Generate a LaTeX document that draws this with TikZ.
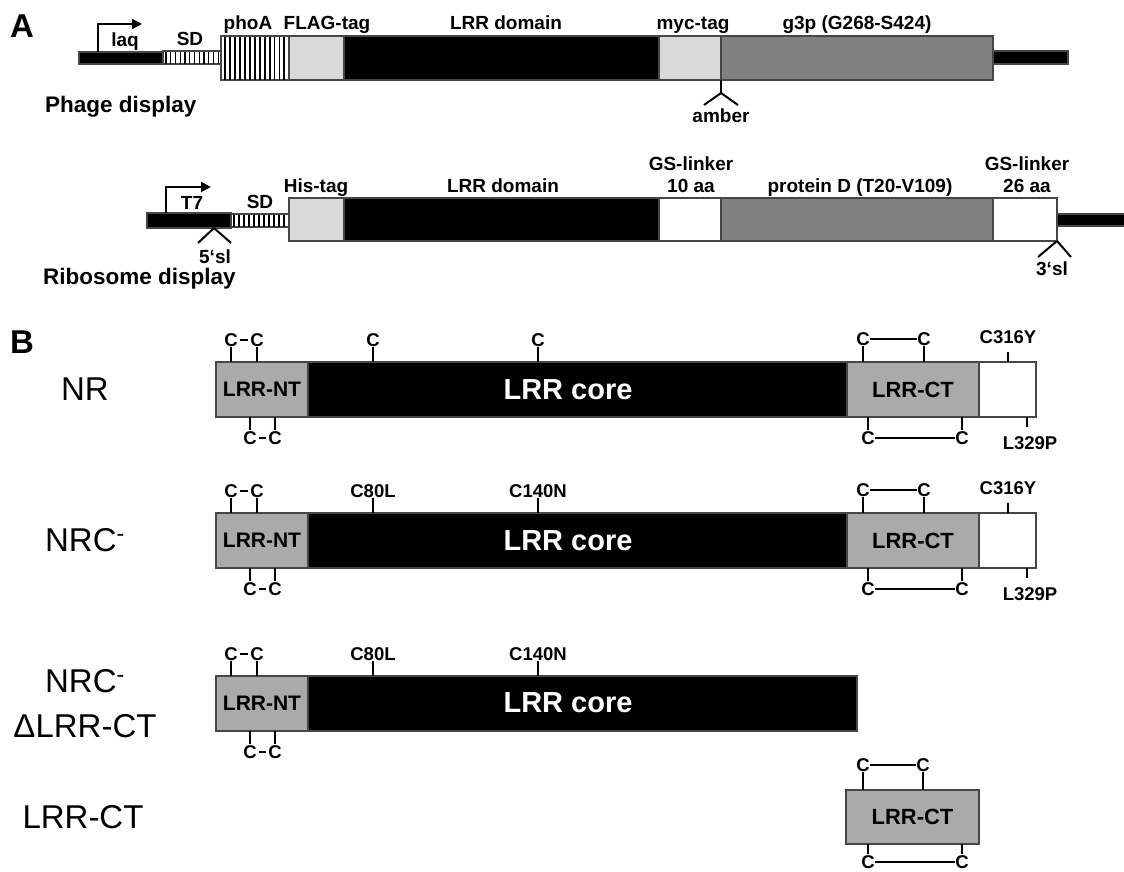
\documentclass[tikz,border=0pt]{standalone}
\usepackage{fontspec}
\setmainfont{Liberation Sans}
\usetikzlibrary{arrows.meta,calc}
\definecolor{lg}{RGB}{217,217,217}
\definecolor{mg}{RGB}{128,128,128}
\definecolor{ntg}{RGB}{170,170,170}
\definecolor{edgec}{RGB}{70,70,70}
\newcommand\fsz[1]{\fontsize{#1}{#1}\selectfont}
\begin{document}
\begin{tikzpicture}[x=1pt,y=-1pt,
  seg/.style={draw=edgec, line width=1.1pt, inner sep=0pt, outer sep=0pt, anchor=north west},
  lab/.style={font=\fsz{19}\bfseries, inner sep=0pt, anchor=base},
  panel/.style={font=\fsz{33}\bfseries, inner sep=0pt, anchor=base west},
  title/.style={font=\fsz{22.5}\bfseries, inner sep=0pt, anchor=base west},
  rowlab/.style={font=\fsz{33}, inner sep=0pt, anchor=base},
  clab/.style={font=\fsz{18.5}\bfseries, inner sep=0.6pt, anchor=base},
  coretxt/.style={font=\fsz{29}\bfseries, text=white, inner sep=0pt},
  tick/.style={line width=2pt, black},
  bond/.style={line width=2pt, black},
  sbond/.style={line width=2.2pt, black, shorten <=1.5pt, shorten >=1.5pt},
  prom/.style={line width=2pt, black, -{Triangle[length=10pt,width=10pt]}},
  stem/.style={line width=2pt, black},
  ntbox/.style={seg, fill=ntg, minimum width=92, minimum height=55, font=\fsz{21}\bfseries},
  corebox/.style={seg, fill=black, minimum height=55},
  ctbox/.style={seg, fill=ntg, minimum height=55, font=\fsz{22}\bfseries},
  tailbox/.style={seg, fill=white, minimum width=57, minimum height=55}
]
\useasboundingbox (0,0) rectangle (1124,871);

% ================= Panel A =================
\node[panel] (pA) at (10,37) {A};

% ---- Phage display ----
\node[seg, fill=black, minimum width=84, minimum height=12] (laqbar) at (79,52) {};
\node[seg, fill=white, minimum width=58, minimum height=13] (sd1) at (163,51) {};
\foreach \i in {0,...,11} \draw[line width=1.2pt] ({166+4.75*\i},51.5) -- ++(0,12);
\node[seg, fill=white, minimum width=68, minimum height=44] (phoa) at (221,36) {};
\foreach \i in {0,...,12} \draw[line width=1.9pt] ({225+4.95*\i},36.5) -- ++(0,43);
\node[seg, fill=lg, minimum width=55, minimum height=44] (flag) at (289,36) {};
\node[seg, fill=black, minimum width=315, minimum height=44] (lrr1) at (344,36) {};
\node[seg, fill=lg, minimum width=62, minimum height=44] (myc) at (659,36) {};
\node[seg, fill=mg, minimum width=272, minimum height=44] (g3p) at (721,36) {};
\node[seg, fill=black, minimum width=75, minimum height=13] (end1) at (993,51) {};

\draw[prom] ($(laqbar.north west)+(19,0)$) |- ++(44,-28);
\node[lab] (tlaq) at (125,46) {laq};
\node[lab] (tsd1) at (190,45) {SD};
\node[lab] (tphoa) at (248,29) {phoA};
\node[lab] (tflag) at (327,29) {FLAG-tag};
\node[lab] (tlrr1) at (506,29) {LRR domain};
\node[lab] (tmyc) at (693,29) {myc-tag};
\node[lab] (tg3p) at (857,29) {g3p (G268-S424)};

\draw[stem] (myc.south east) -- ++(0,13) coordinate (amb);
\draw[stem] (amb) -- ++(-17,12);
\draw[stem] (amb) -- ++(17,12);
\node[lab] (tamber) at (721,122) {amber};
\node[title] (tphage) at (45,112) {Phage display};

% ---- Ribosome display ----
\node[seg, fill=black, minimum width=84, minimum height=15] (t7bar) at (147,213) {};
\node[seg, fill=white, minimum width=58, minimum height=13] (sd2) at (231,214) {};
\foreach \i in {0,...,10} \draw[line width=1.2pt] ({234+5*\i},214.5) -- ++(0,12);
\node[seg, fill=lg, minimum width=55, minimum height=43] (his) at (289,198) {};
\node[seg, fill=black, minimum width=315, minimum height=43] (lrr2) at (344,198) {};
\node[seg, fill=white, minimum width=62, minimum height=43] (gs10) at (659,198) {};
\node[seg, fill=mg, minimum width=272, minimum height=43] (protd) at (721,198) {};
\node[seg, fill=white, minimum width=64, minimum height=43] (gs26) at (993,198) {};
\node[seg, fill=black, minimum width=70, minimum height=12] (end2) at (1057,214) {};

\draw[prom] ($(t7bar.north west)+(19,0)$) |- ++(45,-26);
\node[lab] (tt7) at (192,209) {T7};
\node[lab] (tsd2) at (260,208) {SD};
\node[lab] (this) at (316,192) {His-tag};
\node[lab] (tlrr2) at (503,192) {LRR domain};
\node[lab] (tgs10a) at (691,170) {GS-linker};
\node[lab] (tgs10b) at (691,192) {10 aa};
\node[lab] (tprotd) at (860,192) {protein D (T20-V109)};
\node[lab] (tgs26a) at (1027,170) {GS-linker};
\node[lab] (tgs26b) at (1027,192) {26 aa};

\coordinate (sl5) at ($(t7bar.south west)+(67,0)$);
\draw[stem] (sl5) -- ++(-16,15);
\draw[stem] (sl5) -- ++(17,15);
\node[lab] (tsl5) at (215,263) {5‘sl};
\draw[stem] (gs26.south east) -- ++(-19,16);
\draw[stem] (gs26.south east) -- ++(14,16);
\node[lab] (tsl3) at (1052,275) {3‘sl};
\node[title] (tribo) at (43,284) {Ribosome display};

% ================= Panel B =================
\node[panel] (pB) at (10,353) {B};

% ---- Row 1: NR ----
\node[rowlab] (r1) at (85,400) {NR};
\node[ntbox] (nt1) at (216,362) {LRR-NT};
\node[corebox, minimum width=539] (core1) at (308,362) {};
\node[coretxt] (core1t) at (568,389.5) {LRR core};
\node[ctbox, minimum width=132] (ct1) at (847,362) {LRR-CT};
\node[tailbox] (tail1) at (979,362) {};
% NT cysteines
\node[clab] (n1a) at (231,346) {C}; \node[clab] (n1b) at (257,346) {C};
\node[clab] (n1c) at (250,444) {C}; \node[clab] (n1d) at (275,444) {C};
\draw[tick] (n1a.south) -- (n1a.south |- nt1.north);
\draw[tick] (n1b.south) -- (n1b.south |- nt1.north);
\draw[tick] (n1c.north) -- (n1c.north |- nt1.south);
\draw[tick] (n1d.north) -- (n1d.north |- nt1.south);
\draw[sbond] (n1a.east) -- (n1b.west);
\draw[sbond] (n1c.east) -- (n1d.west);
% core cysteines
\node[clab] (k1a) at (373,346) {C}; \node[clab] (k1b) at (538,346) {C};
\draw[tick] (k1a.south) -- (k1a.south |- core1.north);
\draw[tick] (k1b.south) -- (k1b.south |- core1.north);
% CT cysteines
\node[clab] (c1a) at (863,345) {C}; \node[clab] (c1b) at (924,345) {C};
\node[clab] (c1c) at (868,444) {C}; \node[clab] (c1d) at (962,444) {C};
\draw[tick] (c1a.south) -- (c1a.south |- ct1.north);
\draw[tick] (c1b.south) -- (c1b.south |- ct1.north);
\draw[tick] (c1c.north) -- (c1c.north |- ct1.south);
\draw[tick] (c1d.north) -- (c1d.north |- ct1.south);
\draw[bond] (c1a.east) -- (c1b.west);
\draw[bond] (c1c.east) -- (c1d.west);
% mutations
\node[clab] (m1a) at (1008,343) {C316Y};
\node[clab] (m1b) at (1030,449) {L329P};
\draw[tick] ($(tail1.north west)+(29,0)$) -- ++(0,-10);
\draw[tick] ($(tail1.south west)+(48,0)$) -- ++(0,10);

% ---- Row 2: NRC- ----
\node[rowlab] (r2) at (85,551) {NRC\textsuperscript{-}};
\node[ntbox] (nt2) at (216,513) {LRR-NT};
\node[corebox, minimum width=539] (core2) at (308,513) {};
\node[coretxt] (core2t) at (568,540.5) {LRR core};
\node[ctbox, minimum width=132] (ct2) at (847,513) {LRR-CT};
\node[tailbox] (tail2) at (979,513) {};
\node[clab] (n2a) at (231,497) {C}; \node[clab] (n2b) at (257,497) {C};
\node[clab] (n2c) at (250,595) {C}; \node[clab] (n2d) at (275,595) {C};
\draw[tick] (n2a.south) -- (n2a.south |- nt2.north);
\draw[tick] (n2b.south) -- (n2b.south |- nt2.north);
\draw[tick] (n2c.north) -- (n2c.north |- nt2.south);
\draw[tick] (n2d.north) -- (n2d.north |- nt2.south);
\draw[sbond] (n2a.east) -- (n2b.west);
\draw[sbond] (n2c.east) -- (n2d.west);
\node[clab] (k2a) at (373,497) {C80L}; \node[clab] (k2b) at (538,497) {C140N};
\draw[tick] (k2a.south) -- (k2a.south |- core2.north);
\draw[tick] (k2b.south) -- (k2b.south |- core2.north);
\node[clab] (c2a) at (863,496) {C}; \node[clab] (c2b) at (924,496) {C};
\node[clab] (c2c) at (868,595) {C}; \node[clab] (c2d) at (962,595) {C};
\draw[tick] (c2a.south) -- (c2a.south |- ct2.north);
\draw[tick] (c2b.south) -- (c2b.south |- ct2.north);
\draw[tick] (c2c.north) -- (c2c.north |- ct2.south);
\draw[tick] (c2d.north) -- (c2d.north |- ct2.south);
\draw[bond] (c2a.east) -- (c2b.west);
\draw[bond] (c2c.east) -- (c2d.west);
\node[clab] (m2a) at (1008,494) {C316Y};
\node[clab] (m2b) at (1030,600) {L329P};
\draw[tick] ($(tail2.north west)+(29,0)$) -- ++(0,-10);
\draw[tick] ($(tail2.south west)+(48,0)$) -- ++(0,10);

% ---- Row 3: NRC- dLRR-CT ----
\node[rowlab] (r3a) at (85,692) {NRC\textsuperscript{-}};
\node[rowlab] (r3b) at (85,737) {ΔLRR-CT};
\node[ntbox] (nt3) at (216,676) {LRR-NT};
\node[corebox, minimum width=549] (core3) at (308,676) {};
\node[coretxt] (core3t) at (568,703) {LRR core};
\node[clab] (n3a) at (231,660) {C}; \node[clab] (n3b) at (257,660) {C};
\node[clab] (n3c) at (250,758) {C}; \node[clab] (n3d) at (275,758) {C};
\draw[tick] (n3a.south) -- (n3a.south |- nt3.north);
\draw[tick] (n3b.south) -- (n3b.south |- nt3.north);
\draw[tick] (n3c.north) -- (n3c.north |- nt3.south);
\draw[tick] (n3d.north) -- (n3d.north |- nt3.south);
\draw[sbond] (n3a.east) -- (n3b.west);
\draw[sbond] (n3c.east) -- (n3d.west);
\node[clab] (k3a) at (373,660) {C80L}; \node[clab] (k3b) at (538,660) {C140N};
\draw[tick] (k3a.south) -- (k3a.south |- core3.north);
\draw[tick] (k3b.south) -- (k3b.south |- core3.north);

% ---- Row 4: LRR-CT ----
\node[rowlab] (r4) at (83,828) {LRR-CT};
\node[ctbox, minimum width=133, minimum height=54] (ct4) at (846,790) {LRR-CT};
\node[clab] (c4a) at (863,771) {C}; \node[clab] (c4b) at (923,771) {C};
\node[clab] (c4c) at (868,868) {C}; \node[clab] (c4d) at (962,868) {C};
\draw[tick] (c4a.south) -- (c4a.south |- ct4.north);
\draw[tick] (c4b.south) -- (c4b.south |- ct4.north);
\draw[tick] (c4c.north) -- (c4c.north |- ct4.south);
\draw[tick] (c4d.north) -- (c4d.north |- ct4.south);
\draw[bond] (c4a.east) -- (c4b.west);
\draw[bond] (c4c.east) -- (c4d.west);
\end{tikzpicture}
\end{document}
